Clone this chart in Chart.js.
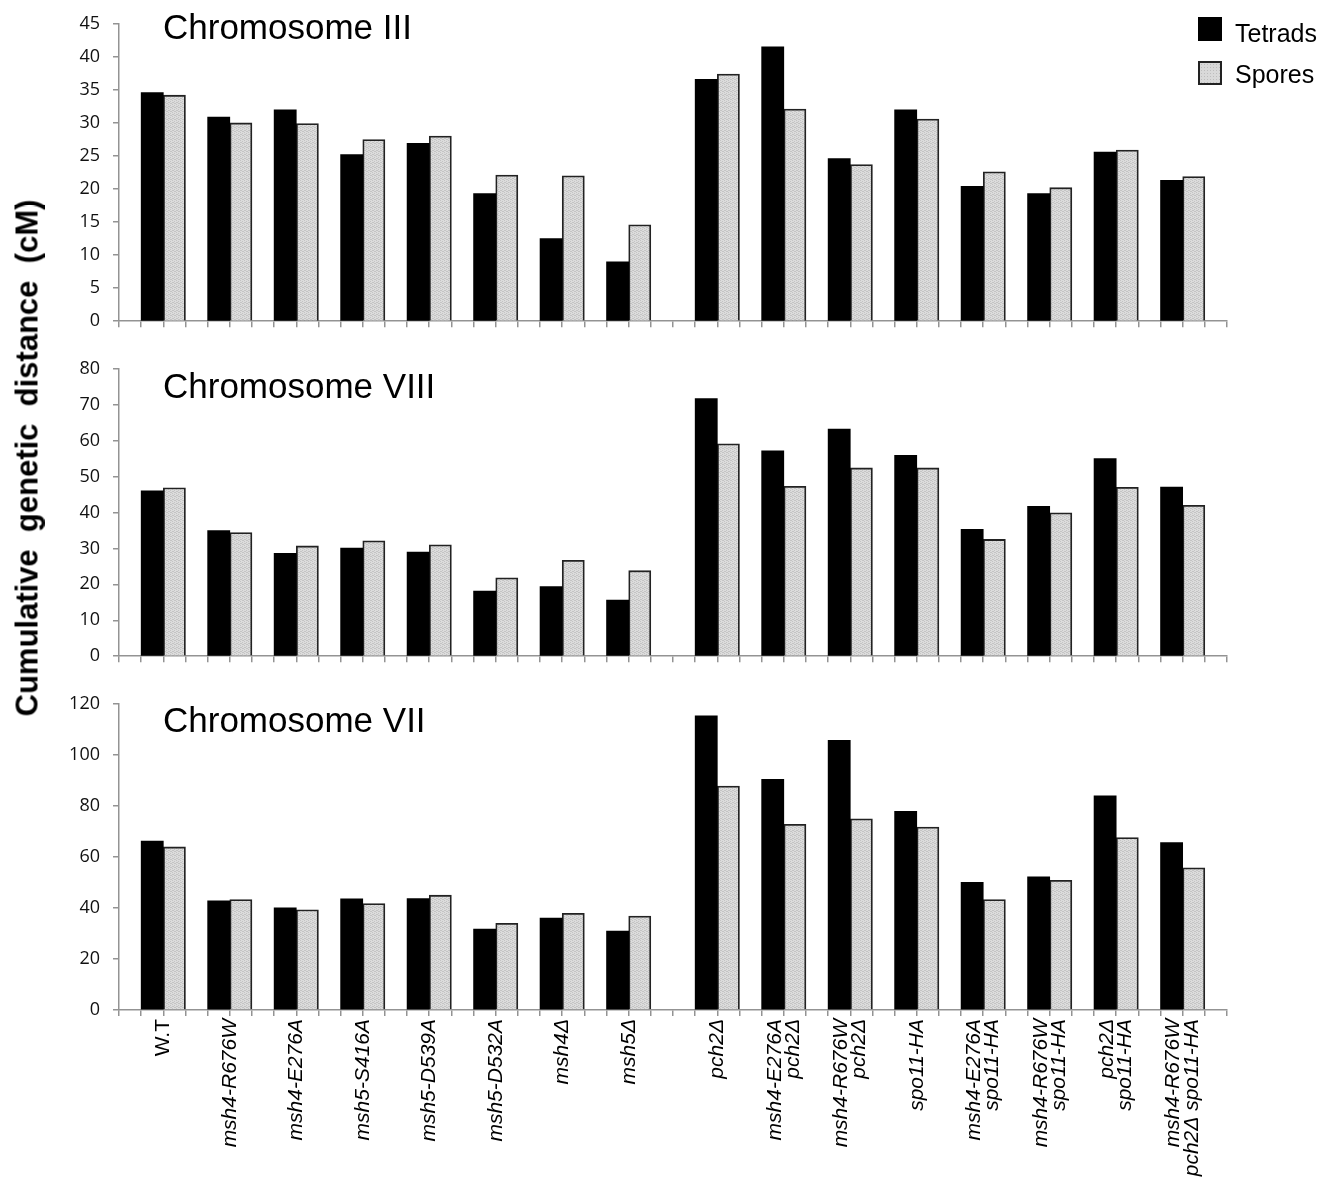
<!DOCTYPE html>
<html>
<head>
<meta charset="utf-8">
<title>Cumulative genetic distance per chromosome</title>
<script src="https://cdn.jsdelivr.net/npm/chart.js@4.4.1/dist/chart.umd.min.js"></script>
<style>
  html, body { margin: 0; padding: 0; background: #fff; }
  #wrap { position: relative; width: 1333px; height: 1178px; overflow: hidden; background: #fff; }
  #wrap canvas { position: absolute; left: 0; }
  #ytitle {
    position: absolute; left: 27px; top: 458px;
    transform: translate(-50%, -50%) rotate(-90deg);
    font: bold 31px "Liberation Sans", Arial, sans-serif;
    white-space: pre; color: #000; line-height: 1;
  }
  .legSwatch { position: absolute; left: 1198px; width: 24px; height: 24px; box-sizing: border-box; }
  .legText { position: absolute; left: 1235px; font: 25px "Liberation Sans", Arial, sans-serif; color: #000; line-height: 1; }
  #swT { top: 17px; background: #000; }
  #swS { top: 61px; border: 2px solid #222;
         background-color: #d9d9d9;
         background-image: radial-gradient(#bdbdbd 0.7px, transparent 0.9px);
         background-size: 3px 3px; }
  #txT { top: 21px; }
  #txS { top: 62px; }
</style>
</head>
<body>
<div id="wrap">
  <canvas id="chrIII" width="1333" height="345" style="top:0px"></canvas>
  <canvas id="chrVIII" width="1333" height="335" style="top:345px"></canvas>
  <canvas id="chrVII" width="1333" height="498" style="top:680px"></canvas>
  <div id="ytitle">Cumulative  genetic  distance  (cM)</div>
  <div class="legSwatch" id="swT"></div><div class="legText" id="txT">Tetrads</div>
  <div class="legSwatch" id="swS"></div><div class="legText" id="txS">Spores</div>
</div>
<script>
// ---- strains (x categories) and their printed labels ----
const strains = [
  'W.T', 'msh4-R676W', 'msh4-E276A', 'msh5-S416A', 'msh5-D539A', 'msh5-D532A', 'msh4Δ', 'msh5Δ',
  'pch2Δ', 'msh4-E276A pch2Δ', 'msh4-R676W pch2Δ', 'spo11-HA',
  'msh4-E276A spo11-HA', 'msh4-R676W spo11-HA', 'pch2Δ spo11-HA', 'msh4-R676W pch2Δ spo11-HA'
];
const strainLabels = [
  ['W.T'], ['msh4-R676W'], ['msh4-E276A'], ['msh5-S416A'], ['msh5-D539A'], ['msh5-D532A'], ['msh4Δ'], ['msh5Δ'],
  ['pch2Δ'], ['msh4-E276A', 'pch2Δ'], ['msh4-R676W', 'pch2Δ'], ['spo11-HA'],
  ['msh4-E276A', 'spo11-HA'], ['msh4-R676W', 'spo11-HA'], ['pch2Δ', 'spo11-HA'], ['msh4-R676W', 'pch2Δ spo11-HA']
];
const seriesNames = ['Tetrads', 'Spores'];

// ---- cumulative genetic distance (cM) ----
const chrIII_tetrads  = [34.6, 30.9, 32.0, 25.2, 26.9, 19.3, 12.5, 9.0, 36.6, 41.5, 24.6, 32.0, 20.4, 19.3, 25.6, 21.3];
const chrIII_spores   = [34.2, 30.0, 29.9, 27.5, 28.0, 22.1, 22.0, 14.6, 37.4, 32.1, 23.7, 30.6, 22.6, 20.2, 25.9, 21.9];
const chrVIII_tetrads = [46.0, 35.0, 28.6, 30.1, 29.0, 18.1, 19.4, 15.6, 71.7, 57.2, 63.2, 55.9, 35.3, 41.7, 55.0, 47.1];
const chrVIII_spores  = [46.9, 34.4, 30.7, 32.1, 31.0, 21.8, 26.7, 23.8, 59.1, 47.3, 52.4, 52.4, 32.5, 39.9, 47.0, 42.0];
const chrVII_tetrads  = [66.2, 42.8, 40.0, 43.6, 43.7, 31.7, 36.0, 30.9, 115.3, 90.4, 105.7, 77.9, 50.0, 52.2, 83.9, 65.6];
const chrVII_spores   = [63.9, 43.3, 39.3, 41.7, 45.0, 34.0, 37.9, 36.8, 87.8, 72.8, 74.9, 71.7, 43.3, 50.8, 67.6, 55.7];

// ---- y tick labels per panel ----
const chrIII_yTicks  = [0, 5, 10, 15, 20, 25, 30, 35, 40, 45];
const chrVIII_yTicks = [0, 10, 20, 30, 40, 50, 60, 70, 80];
const chrVII_yTicks  = [0, 20, 40, 60, 80, 100, 120];

// ---- slot layout along x: each strain = [gap, Tetrads, Spores]; one extra gap between the two strain sets ----
const SLOTS_PER_GROUP = 3;
const FIRST_SET = 8;
const TOTAL_SLOTS = strains.length * SLOTS_PER_GROUP + 2;
const groupStart = i => i * SLOTS_PER_GROUP + (i >= FIRST_SET ? 1 : 0);

const AXIS_GRAY = '#939393';
const LABEL_SIZE = 21, LABEL_LH = 0.86;

function sporesPattern() {
  const c = document.createElement('canvas');
  c.width = 4; c.height = 4;
  const g = c.getContext('2d');
  g.fillStyle = '#dcdcdc'; g.fillRect(0, 0, 4, 4);
  g.fillStyle = '#c4c4c4';
  [[0, 0], [2, 1], [1, 2], [3, 3], [0, 2], [2, 3]].forEach(([x, y]) => g.fillRect(x, y, 1, 1));
  return g.createPattern(c, 'repeat');
}
const SPORES_FILL = sporesPattern();

// draws the chromosome name inside the plot area
const panelTitle = {
  id: 'panelTitle',
  afterDraw(chart, args, opts) {
    const { ctx, chartArea } = chart;
    ctx.save();
    ctx.font = '35px "Liberation Sans", Arial, sans-serif';
    ctx.fillStyle = '#000';
    ctx.textBaseline = 'alphabetic';
    ctx.textAlign = 'left';
    ctx.fillText(opts.text, chartArea.left + opts.dx, opts.baseline);
    ctx.restore();
  }
};

function makePanel(id, title, titleBaseline, tetrads, spores, yTicks, padTop, axisHeight, withLabels) {
  const toPoints = (vals, slot) => vals.map((v, i) => ({ x: groupStart(i) + slot, y: v }));
  const scales = {
    x: {
      type: 'linear', position: 'bottom', weight: 0, offset: false,
      min: 0, max: TOTAL_SLOTS,
      afterBuildTicks: s => { s.ticks = Array.from({ length: TOTAL_SLOTS + 1 }, (_, k) => ({ value: k })); },
      afterFit: s => { s.height = withLabels ? 6 : axisHeight; },
      grid: { offset: false, drawOnChartArea: false, drawTicks: true, tickLength: 6, color: AXIS_GRAY, lineWidth: 1.5 },
      border: { display: true, color: AXIS_GRAY, width: 1.5 },
      ticks: { display: false, autoSkip: false }
    },
    y: {
      type: 'linear', position: 'left',
      min: yTicks[0], max: yTicks[yTicks.length - 1],
      afterBuildTicks: s => { s.ticks = yTicks.map(v => ({ value: v })); },
      afterFit: s => { s.width = 119; },
      grid: { drawOnChartArea: false, drawTicks: true, tickLength: 6, color: AXIS_GRAY, lineWidth: 1.5 },
      border: { display: true, color: AXIS_GRAY, width: 1.5 },
      ticks: { font: { family: '"Open Sans", sans-serif', size: 18 }, color: '#111', padding: 13 }
    }
  };
  if (withLabels) {
    scales.xl = {
      type: 'linear', position: 'bottom', weight: 1, offset: false,
      min: 0, max: TOTAL_SLOTS,
      afterBuildTicks: s => {
        const slotPx = s.width / TOTAL_SLOTS;
        const lh = LABEL_SIZE * LABEL_LH;
        s.ticks = strainLabels.map((lines, i) => ({
          value: groupStart(i) + 2 - ((lines.length - 1) * lh / 2) / slotPx
        }));
      },
      afterFit: s => { s.height = axisHeight - 6; },
      grid: { display: false, drawTicks: false, offset: false },
      border: { display: false },
      ticks: {
        autoSkip: false, minRotation: 90, maxRotation: 90, padding: 3, color: '#000',
        callback: (v, i) => strainLabels[i],
        font: ctx => ({
          family: '"Liberation Sans", Arial, sans-serif', size: LABEL_SIZE, lineHeight: LABEL_LH,
          style: strains[ctx.index] === 'W.T' ? 'normal' : 'italic'
        })
      }
    };
  }
  return new Chart(document.getElementById(id), {
    type: 'bar',
    data: {
      datasets: [
        { label: seriesNames[0], data: toPoints(tetrads, 1.5), backgroundColor: '#000', borderColor: '#000', borderWidth: 0 },
        { label: seriesNames[1], data: toPoints(spores, 2.5), backgroundColor: SPORES_FILL, borderColor: '#222', borderWidth: 1.8 }
      ]
    },
    options: {
      responsive: false, animation: false, events: [],
      grouped: false, categoryPercentage: 1, barPercentage: 1,
      layout: { padding: { top: padTop, left: 0, right: 106, bottom: 0 } },
      scales,
      plugins: {
        legend: { display: false }, tooltip: { enabled: false },
        panelTitle: { text: title, dx: 44, baseline: titleBaseline }
      }
    },
    plugins: [panelTitle]
  });
}

makePanel('chrIII', 'Chromosome III', 39, chrIII_tetrads, chrIII_spores, chrIII_yTicks, 16, 18, false);
makePanel('chrVIII', 'Chromosome VIII', 53, chrVIII_tetrads, chrVIII_spores, chrVIII_yTicks, 13, 15, false);
makePanel('chrVII', 'Chromosome VII', 52, chrVII_tetrads, chrVII_spores, chrVII_yTicks, 14, 168, true);
</script>
</body>
</html>
